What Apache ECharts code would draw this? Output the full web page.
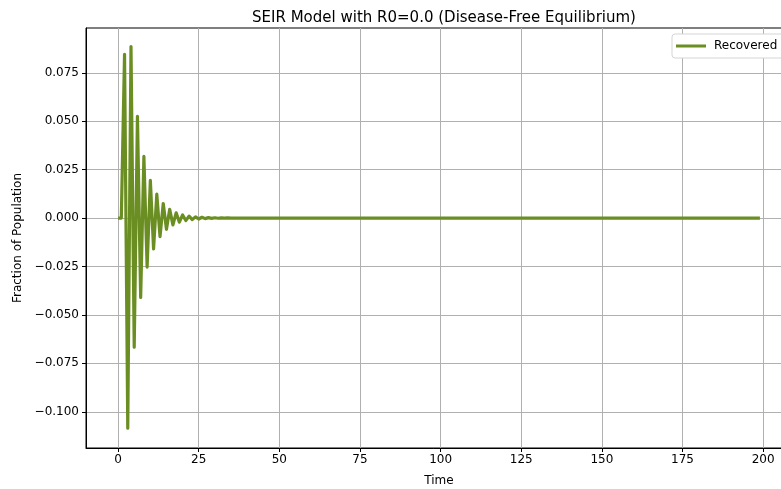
<!DOCTYPE html>
<html>
<head>
<meta charset="utf-8">
<script src="https://cdn.jsdelivr.net/npm/echarts@6/dist/echarts.min.js"></script>
<style>html,body{margin:0;padding:0;background:#fff}#c{width:781px;height:489px}</style>
</head>
<body>
<div id="c"></div>
<script>
var chartTitle = 'SEIR Model with R0=0.0 (Disease-Free Equilibrium)';
var seriesName = 'Recovered';
var times = [0,1,2,3,4,5,6,7,8,9,10,11,12,13,14,15,16,17,18,19,20,21,22,23,24,25,26,27,28,29,30,31,32,33,34,35,36,37,38,39,40,199];
var recovered = [0,0,0.0845,-0.1085,0.0885,-0.0667,0.0525,-0.0410,0.0318,-0.0253,0.0195,-0.0159,0.0123,-0.0096,0.0075,-0.0058,0.0045,-0.0035,0.0027,-0.0021,0.0016,-0.0013,0.0010,-0.0008,0.0006,-0.0005,0.0004,-0.0003,0.00023,-0.00018,0.00014,-0.00011,0.00008,-0.00006,0.00005,0,0,0,0,0,0,0];
var xTicks = [0,25,50,75,100,125,150,175,200];
var yTicks = [-0.1,-0.075,-0.05,-0.025,0,0.025,0.05,0.075];

var data = times.map(function(t,i){return [t, recovered[i]];});
var font = 'DejaVu Sans';
var chart = echarts.init(document.getElementById('c'), null, {renderer:'canvas'});
chart.setOption({
  animation:false,
  backgroundColor:'#fff',
  title:{text:chartTitle,left:439,textAlign:'center',top:6,
    textStyle:{fontFamily:font,fontSize:15,fontWeight:'normal',color:'#000'}},
  legend:{data:[seriesName],left:672,top:34,orient:'vertical',
    backgroundColor:'#fff',borderColor:'#d5d5d5',borderWidth:1,borderRadius:3,
    padding:[6,8,6,4],itemWidth:30,itemHeight:3,itemGap:0,icon:'rect',
    textStyle:{fontFamily:font,fontSize:12,color:'#000',padding:[0,0,0,3]}},
  grid:{left:86,width:706,top:28,bottom:41,show:true,borderColor:'#000',borderWidth:1,
    containLabel:false,outerBoundsMode:'none'},
  xAxis:{type:'value',min:-9.95,max:208.95,
    name:'Time',nameLocation:'middle',nameGap:27,
    nameTextStyle:{fontFamily:font,fontSize:12,color:'#000'},
    axisLine:{show:true,onZero:false,lineStyle:{color:'#000',width:1}},
    axisTick:{show:true,length:4,lineStyle:{color:'#000'},customValues:xTicks},
    axisLabel:{fontFamily:font,fontSize:12,color:'#000',margin:6,customValues:xTicks,
      formatter:function(v){return String(v);}},
    splitLine:{show:true,lineStyle:{color:'#b0b0b0',width:1}}},
  yAxis:{type:'value',min:-0.1187,max:0.0981,
    name:'Fraction of Population',nameLocation:'middle',nameGap:62,
    nameTextStyle:{fontFamily:font,fontSize:12,color:'#000'},
    axisLine:{show:true,onZero:false,lineStyle:{color:'#000',width:1}},
    axisTick:{show:true,length:4,lineStyle:{color:'#000'},customValues:yTicks},
    axisLabel:{fontFamily:font,fontSize:12,color:'#000',margin:7,customValues:yTicks,
      formatter:function(v){var s=Math.abs(v).toFixed(3);return (v<-1e-9?'\u2212':'')+s;}},
    splitLine:{show:true,lineStyle:{color:'#b0b0b0',width:1}}},
  series:[{name:seriesName,type:'line',data:data,showSymbol:false,symbol:'none',
    color:'#6b8e23',lineStyle:{color:'#6b8e23',width:3.2,join:'round'},clip:true}]
});
</script>
</body>
</html>
